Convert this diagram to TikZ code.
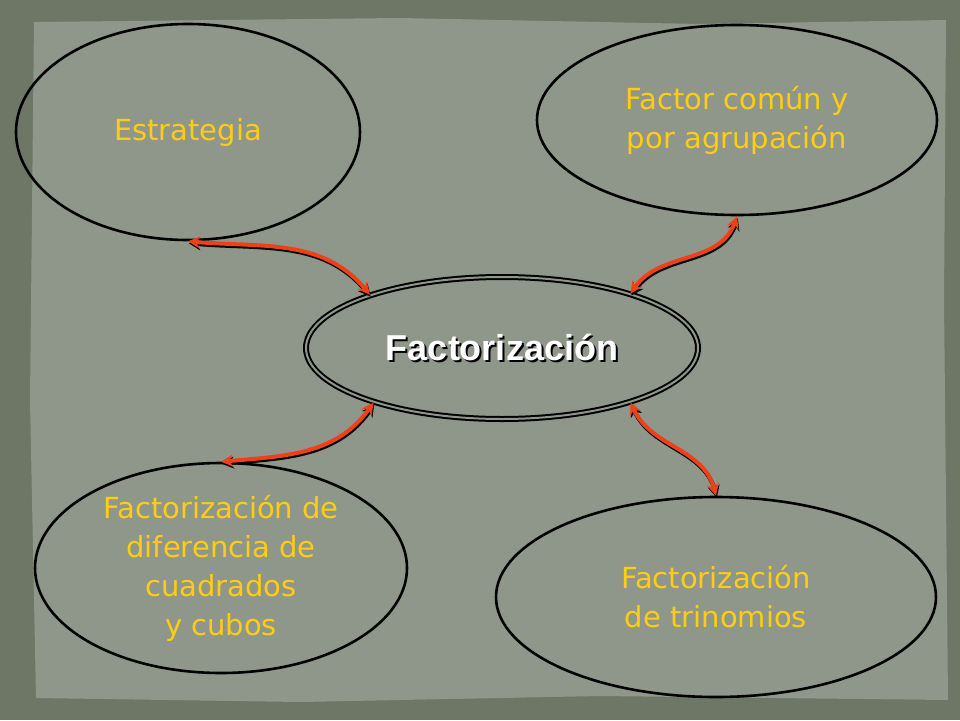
\documentclass[tikz,border=0pt]{standalone}
\usepackage{fontspec}
\setmainfont{DejaVu Sans}
\newfontfamily\boldf{Liberation Sans}
\usetikzlibrary{shapes.geometric,arrows.meta}
\definecolor{outerbg}{HTML}{6E7665}
\definecolor{paper}{HTML}{8F978A}
\definecolor{ytext}{HTML}{FFCC14}
\definecolor{redarr}{HTML}{F0401A}
\tikzset{
  bubble/.style={ellipse, draw=black, line width=2.6pt, text=ytext, font=\fontsize{29}{39}\selectfont, align=center, inner sep=0pt},
  link/.style={draw=redarr, line width=4pt, {Stealth[length=12pt,width=12pt]}-{Stealth[length=12pt,width=12pt]},
    preaction={draw=black, line width=4pt, transform canvas={shift={(0.8pt,-2pt)}}}},
}
\begin{document}
\begin{tikzpicture}[x=1pt,y=-1pt]
\fill[outerbg] (0,0) rectangle (960,720);
\fill[paper] (34,22) -- (400,18) -- (700,24) -- (946,20) -- (944,300) -- (948,700) -- (600,696) -- (300,702) -- (36,698) -- (30,400) -- cycle;
\node[bubble, minimum width=344pt, minimum height=216pt] (est) at (188,132) {Estrategia};
\node[bubble, minimum width=400pt, minimum height=190pt] (fc) at (737,120) {Factor común y\\por agrupación};
\node[bubble, minimum width=372pt, minimum height=210pt] (dif) at (221,568) {Factorización de\\diferencia de\\cuadrados\\y cubos};
\node[bubble, minimum width=440pt, minimum height=200pt] (tri) at (716,597) {Factorización\\de trinomios};
\node[ellipse, draw=black, line width=2pt, double=paper, double distance=2pt, minimum width=392pt, minimum height=142pt, inner sep=0pt,
  text=white, font=\boldf\bfseries\fontsize{36}{40}\selectfont] (c) at (502,348)
  {\makebox[0pt][l]{\raisebox{-2pt}{\hspace{2pt}\color{black}Factorización}}Factorización};
\draw[link] (est.south) to[out=-5,in=130] (c.158);
\draw[link] (fc.south) to[out=-110,in=55] (c.23);
\draw[link] (dif.north) to[out=5,in=235] (c.203);
\draw[link] (tri.north) to[out=105,in=-65] (c.337);
\end{tikzpicture}
\end{document}
